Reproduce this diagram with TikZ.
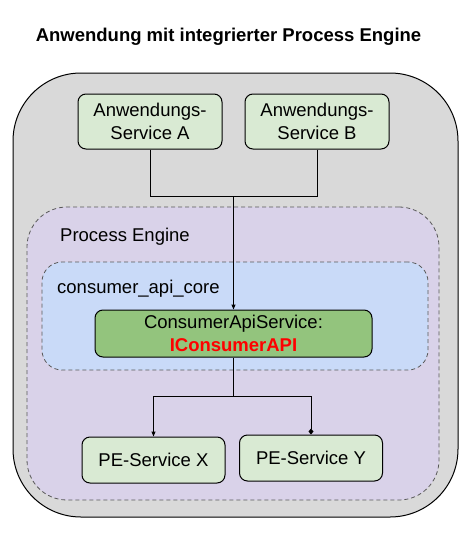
\documentclass[tikz,border=0pt]{standalone}
\usepackage{fontspec}
\setmainfont{Liberation Sans}
\usepackage{tikz}
\usetikzlibrary{arrows.meta,positioning}
\definecolor{outergray}{HTML}{D9D9D9}
\definecolor{enginelilac}{HTML}{D9D2E9}
\definecolor{coreblue}{HTML}{C9DAF8}
\definecolor{servicegreen}{HTML}{93C47D}
\definecolor{appgreen}{HTML}{D9EAD3}
\definecolor{dashgray}{HTML}{595959}
\definecolor{apired}{HTML}{FF0000}

\begin{document}
\begin{tikzpicture}[x=1pt,y=-1pt,
font=\fontsize{18.5}{22.5}\selectfont,
block_outer/.style ={rectangle, draw=black, line width=1pt, fill=outergray, rounded corners=68pt, minimum width=445pt, minimum height=444pt},
block_engine/.style ={rectangle, draw=dashgray, line width=0.8pt, dash pattern=on 4pt off 3pt, fill=enginelilac, rounded corners=40pt, minimum width=412pt, minimum height=293pt},
block_core/.style ={rectangle, draw=dashgray, line width=0.8pt, dash pattern=on 4pt off 3pt, fill=coreblue, rounded corners=20pt, minimum width=386pt, minimum height=108pt},
block_api/.style ={rectangle, draw=black, line width=1pt, fill=servicegreen, rounded corners=8pt, minimum width=277pt, minimum height=47pt, align=center, inner sep=0pt},
block_app/.style ={rectangle, draw=black, line width=1pt, fill=appgreen, rounded corners=8pt, minimum width=144pt, minimum height=55pt, align=center, inner sep=0pt},
block_pe/.style ={rectangle, draw=black, line width=1pt, fill=appgreen, rounded corners=8pt, minimum width=143pt, minimum height=46pt, inner sep=0pt},
block_label/.style ={anchor=west, inner sep=0pt},
line/.style ={draw, line width=1pt}]
  \useasboundingbox (0,0) rectangle (470,554);
  % title
    \node (title) at (228.5,37) {\bfseries Anwendung mit integrierter Process Engine};
  % containers
    \node [block_outer] (outer) at (235.5,295) {};
    \node [block_engine] (engine) at (233,353.5) {};
    \node [block_label] (engine_lbl) at (60,237) {Process Engine};
    \node [block_core] (core) at (235,316) {};
    \node [block_label] (core_lbl) at (57,289) {consumer\_api\_core};
  % services
    \node [block_app] (app_a) at (150,121.5) {Anwendungs-\\Service A};
    \node [block_app] (app_b) at (317,121.5) {Anwendungs-\\Service B};
    \node [block_api] (api) at (233.5,333.5) {ConsumerApiService:\\\textcolor{apired}{\bfseries IConsumerAPI}};
    \node [block_pe] (pe_x) at (153.5,460) {PE-Service X};
    \node [block_pe] (pe_y) at (311,458) {PE-Service Y};
  % connecting nodes with paths
    \coordinate (join) at (233.5,196);
    \coordinate (split) at (233.5,396);
    \begin{scope}[every path/.style=line]
      \path (app_a.south) |- (join);
      \path (app_b.south) |- (join);
      \path[-{Triangle[length=5pt,width=4pt]}] (join) -- (api.north);
      \path (api.south) -- (split);
      \path[-{Triangle[length=5pt,width=4pt]}] (split) -| (pe_x.north);
      \path[-{Diamond[length=6pt,width=5pt]}] (split) -| (pe_y.north);
    \end{scope}
\end{tikzpicture}
\end{document}
